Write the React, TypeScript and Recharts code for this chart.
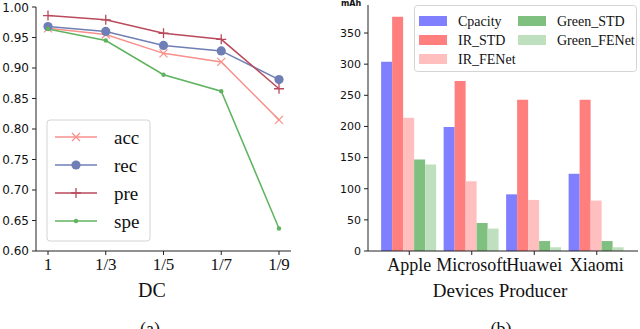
import React from "react"
import { LineChart, Line, BarChart, Bar, XAxis, YAxis } from "recharts"

// (a) detection metrics vs duty cycle
const dcLabels = ["1", "1/3", "1/5", "1/7", "1/9"]
const acc = [0.965, 0.955, 0.924, 0.91, 0.815]
const rec = [0.968, 0.96, 0.937, 0.928, 0.881]
const pre = [0.986, 0.979, 0.957, 0.947, 0.866]
const spe = [0.964, 0.945, 0.889, 0.862, 0.637]
const metricTicks = [0.6, 0.65, 0.7, 0.75, 0.8, 0.85, 0.9, 0.95, 1.0]

// (b) energy per producer
const producers = ["Apple", "Microsoft", "Huawei", "Xiaomi"]
const cpacity = [304, 199, 91, 124]
const irStd = [376, 273, 243, 243]
const irFenet = [214, 112, 82, 81]
const greenStd = [147, 45, 16, 16]
const greenFenet = [139, 36, 6, 6]
const mahTicks = [0, 50, 100, 150, 200, 250, 300, 350]

const serif = "'Liberation Serif', 'Times New Roman', serif"
const sans = "'DejaVu Sans', sans-serif"
const axisColor = "#222"

const lineData = dcLabels.map((dc, i) => ({
  dc,
  acc: acc[i],
  rec: rec[i],
  pre: pre[i],
  spe: spe[i],
}))

const barData = producers.map((producer, i) => ({
  producer,
  cpacity: cpacity[i],
  irStd: irStd[i],
  irFenet: irFenet[i],
  greenStd: greenStd[i],
  greenFenet: greenFenet[i],
}))

const lineSeries = [
  { key: "acc", name: "acc", color: "#f7918c", marker: "x" },
  { key: "rec", name: "rec", color: "#6f7fb5", marker: "circle" },
  { key: "pre", name: "pre", color: "#b94a5c", marker: "plus" },
  { key: "spe", name: "spe", color: "#5fb35f", marker: "dot" },
]

const barSeries = [
  { key: "cpacity", name: "Cpacity", color: "#7f7fff" },
  { key: "irStd", name: "IR_STD", color: "#ff7f7f" },
  { key: "irFenet", name: "IR_FENet", color: "#ffbfbf" },
  { key: "greenStd", name: "Green_STD", color: "#7fbf7f" },
  { key: "greenFenet", name: "Green_FENet", color: "#bfe0bf" },
]

function Marker({ type, cx, cy, color }: { type: string; cx: number; cy: number; color: string }) {
  if (type === "x") {
    const s = 4
    return (
      <path
        d={`M${cx - s},${cy - s}L${cx + s},${cy + s}M${cx - s},${cy + s}L${cx + s},${cy - s}`}
        stroke={color}
        strokeWidth={1.3}
        fill="none"
      />
    )
  }
  if (type === "plus") {
    const s = 5
    return (
      <path
        d={`M${cx - s},${cy}L${cx + s},${cy}M${cx},${cy - s}L${cx},${cy + s}`}
        stroke={color}
        strokeWidth={1.3}
        fill="none"
      />
    )
  }
  if (type === "circle") return <circle cx={cx} cy={cy} r={4.6} fill={color} />
  return <circle cx={cx} cy={cy} r={2.2} fill={color} />
}

function Caption({ x, y, size, children }: { x: number; y: number; size: number; children: React.ReactNode }) {
  return (
    <div
      style={{
        position: "absolute",
        left: x,
        top: y,
        transform: "translate(-50%, -50%)",
        fontFamily: serif,
        fontSize: size,
        lineHeight: 1,
        whiteSpace: "nowrap",
        color: "#111",
      }}
    >
      {children}
    </div>
  )
}

function MetricChart() {
  return (
    <LineChart width={320} height={329} data={lineData} margin={{ top: 7, right: 29, bottom: 48, left: 0 }}>
      <XAxis
        dataKey="dc"
        interval={0}
        padding={{ left: 12, right: 12 }}
        height={30}
        tickSize={4}
        tickMargin={3}
        stroke={axisColor}
        tick={{ fontFamily: serif, fontSize: 17, fill: "#111" }}
      />
      <XAxis xAxisId="top" orientation="top" dataKey="dc" height={0} tick={false} tickLine={false} stroke={axisColor} />
      <YAxis
        domain={[0.6, 1]}
        ticks={metricTicks}
        tickFormatter={(v: number) => v.toFixed(2)}
        width={36}
        tickSize={4}
        tickMargin={3}
        stroke={axisColor}
        tick={{ fontFamily: sans, fontSize: 12, fill: "#111" }}
      />
      <YAxis yAxisId="right" orientation="right" width={0} tick={false} tickLine={false} stroke={axisColor} />
      {lineSeries.map((s) => (
        <Line
          key={s.key}
          dataKey={s.key}
          stroke={s.color}
          strokeWidth={1.5}
          isAnimationActive={false}
          dot={(p: any) => (
            <g key={`${s.key}-${p.index}`}>
              <Marker type={s.marker} cx={p.cx} cy={p.cy} color={s.color} />
            </g>
          )}
          activeDot={false}
        />
      ))}
    </LineChart>
  )
}

function MetricLegend() {
  const rows = [18, 46, 74, 102]
  return (
    <svg width={106} height={124} style={{ position: "absolute", left: 46, top: 119 }}>
      <rect x={1} y={1} width={103} height={121} rx={3} fill="white" fillOpacity={0.85} stroke="#d4d4d4" />
      {lineSeries.map((s, i) => (
        <g key={s.key}>
          <line x1={9} x2={51} y1={rows[i]} y2={rows[i]} stroke={s.color} strokeWidth={1.5} />
          <Marker type={s.marker} cx={30} cy={rows[i]} color={s.color} />
          <text x={68} y={rows[i]} dominantBaseline="central" fontFamily={serif} fontSize={19} fill="#111">
            {s.name}
          </text>
        </g>
      ))}
    </svg>
  )
}

function EnergyChart() {
  return (
    <BarChart
      width={320}
      height={329}
      data={barData}
      margin={{ top: 5, right: 2, bottom: 48, left: 0 }}
      barCategoryGap="5%"
      barGap={0}
    >
      <XAxis
        dataKey="producer"
        interval={0}
        padding={{ left: 10, right: 10 }}
        height={30}
        tickSize={4}
        tickMargin={3}
        stroke={axisColor}
        tick={{ fontFamily: serif, fontSize: 18, fill: "#111" }}
      />
      <XAxis xAxisId="top" orientation="top" dataKey="producer" height={0} tick={false} tickLine={false} stroke={axisColor} />
      <YAxis
        domain={[0, 395]}
        ticks={mahTicks}
        width={48}
        tickSize={4}
        tickMargin={3}
        stroke={axisColor}
        tick={{ fontFamily: sans, fontSize: 11, fill: "#111" }}
      />
      <YAxis yAxisId="right" orientation="right" width={0} tick={false} tickLine={false} stroke={axisColor} />
      {barSeries.map((s) => (
        <Bar key={s.key} dataKey={s.key} fill={s.color} isAnimationActive={false} />
      ))}
    </BarChart>
  )
}

function EnergyLegend() {
  const rows = [16, 35, 54]
  const cols = [
    { swatch: 5, text: 44 },
    { swatch: 104, text: 143 },
  ]
  return (
    <svg width={223} height={67} style={{ position: "absolute", left: 414, top: 5 }}>
      <rect x={0.5} y={0.5} width={222} height={66} rx={3} fill="white" fillOpacity={0.85} stroke="#d4d4d4" />
      {barSeries.map((s, i) => {
        const col = cols[i < 3 ? 0 : 1]
        const y = rows[i < 3 ? i : i - 3]
        return (
          <g key={s.key}>
            <rect x={col.swatch} y={y - 5} width={28} height={10} fill={s.color} />
            <text x={col.text} y={y} dominantBaseline="central" fontFamily={serif} fontSize={14} fill="#111">
              {s.name}
            </text>
          </g>
        )
      })}
    </svg>
  )
}

export default function App() {
  return (
    <div
      style={{
        position: "absolute",
        left: 0,
        top: 0,
        width: 640,
        height: 329,
        overflow: "hidden",
        background: "white",
      }}
    >
      <div style={{ position: "absolute", left: 0, top: 0 }}>
        <MetricChart />
      </div>
      <MetricLegend />
      <Caption x={152} y={290} size={20}>DC</Caption>
      <Caption x={150} y={329} size={18}>(a)</Caption>

      <div style={{ position: "absolute", left: 320, top: 0 }}>
        <EnergyChart />
      </div>
      <EnergyLegend />
      <div
        style={{
          position: "absolute",
          left: 341,
          top: 0,
          fontFamily: sans,
          fontSize: 8,
          fontWeight: "bold",
          lineHeight: 1,
          color: "#111",
        }}
      >
        mAh
      </div>
      <Caption x={500} y={290} size={19}>Devices Producer</Caption>
      <Caption x={501} y={329} size={18}>(b)</Caption>
    </div>
  )
}
